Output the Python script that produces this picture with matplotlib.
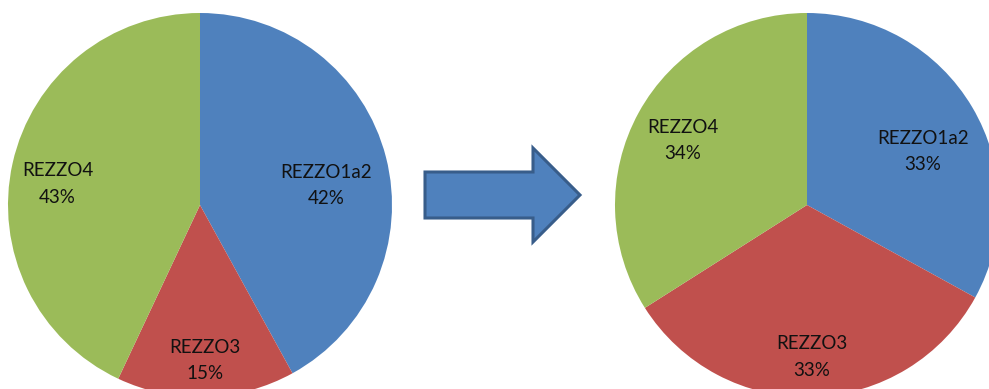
import numpy as np
import matplotlib
matplotlib.use("Agg")
import matplotlib.pyplot as plt
from matplotlib.patches import Polygon

# Share of each source before and after the change
categories = ["REZZO1a2", "REZZO3", "REZZO4"]
before = [42, 15, 43]
after = [33, 33, 34]
colors = ["#4F81BD", "#C0504D", "#9BBB59"]

W, H = 989, 389
R = 192

fig = plt.figure(figsize=(W / 100, H / 100), dpi=100)
ax = fig.add_axes([0, 0, 1, 1])
ax.set_xlim(0, W)
ax.set_ylim(0, H)
ax.set_aspect("equal")
ax.axis("off")


def draw_pie(values, center, label_pos):
    wedges, _ = ax.pie(values, colors=colors, startangle=90, counterclock=False,
                       radius=R, center=center, frame=True,
                       wedgeprops=dict(linewidth=0))
    # label each wedge along its mid angle
    for w, name, v, (dist, shift) in zip(wedges, categories, values, label_pos):
        mid = np.deg2rad((w.theta1 + w.theta2) / 2)
        x = center[0] + dist * R * np.cos(mid)
        y = center[1] + dist * R * np.sin(mid) + shift
        ax.text(x, y, "%s\n%d%%" % (name, v), ha="center", va="center",
                fontsize=13.5, family="Lato", linespacing=1.7, color="#111111")


draw_pie(before, (200, 184), [(0.68, -13), (0.81, 0), (0.76, -11)])
draw_pie(after, (807, 184), [(0.70, -15), (0.79, 0), (0.74, -4)])

ax.set_xlim(0, W)
ax.set_ylim(0, H)
ax.axis("off")

# block arrow between the two pies
arrow = [(425, H - 172), (533, H - 172), (533, H - 148), (580, H - 195),
         (533, H - 242), (533, H - 218), (425, H - 218)]
ax.add_patch(Polygon(arrow, closed=True, facecolor="#4F81BD",
                     edgecolor="#385D8A", linewidth=2.2, joinstyle="miter"))

fig.savefig("out.png", dpi=100)
